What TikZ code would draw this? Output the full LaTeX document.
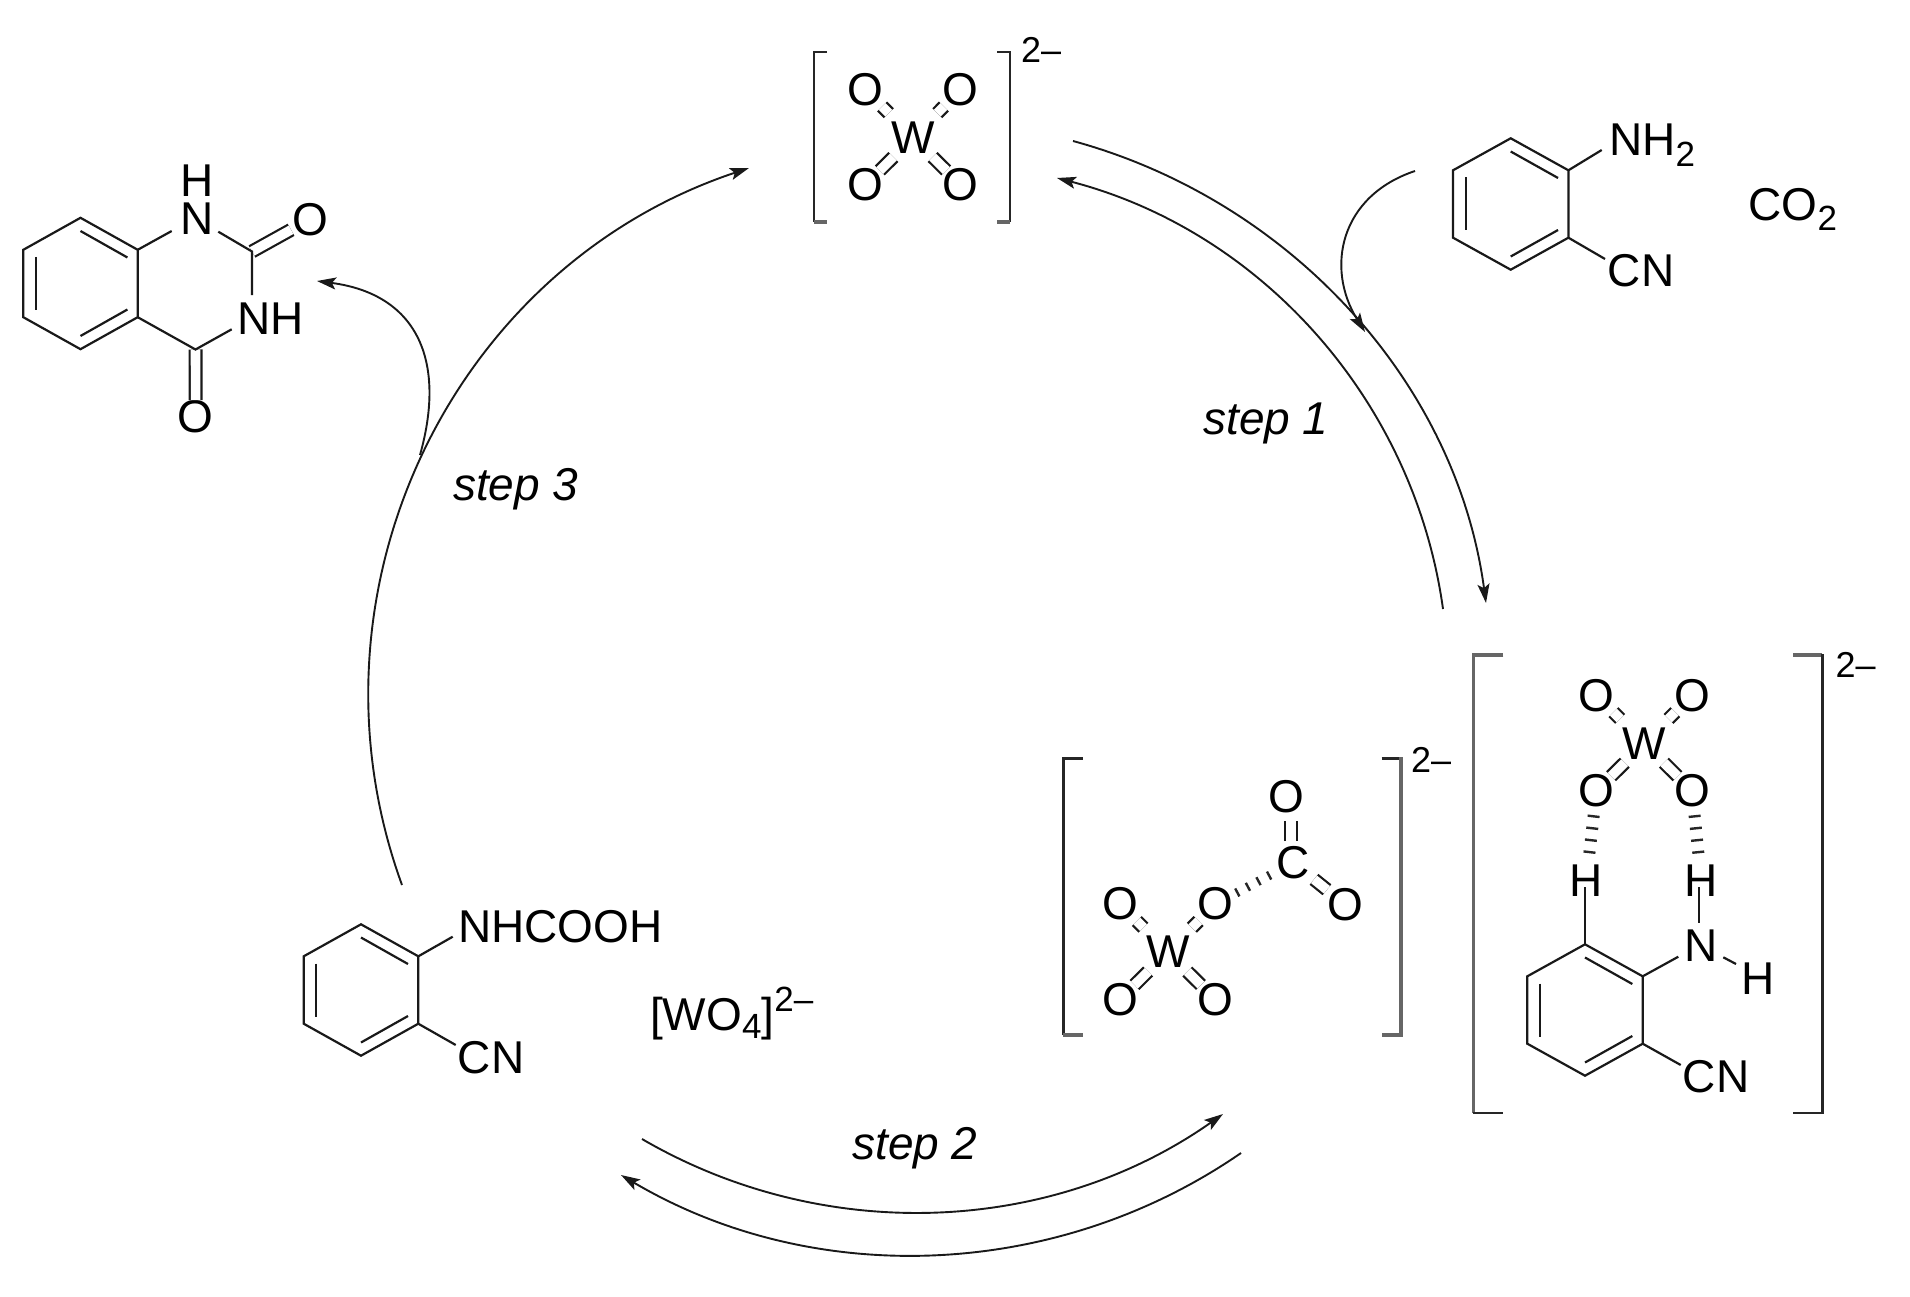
\documentclass[tikz,border=0pt]{standalone}
\usepackage{fontspec}
\setmainfont{Liberation Sans}
\usetikzlibrary{arrows.meta}
\tikzset{
  bond/.style={line width=2.2pt,line cap=butt,line join=miter,black!90},
  dbl/.style={line width=2.2pt,double,double distance=9.6pt,black!90},
  wup/.style={dbl,shorten <=11.7pt,shorten >=0.7pt},
  wdn/.style={dbl,shorten <=4.9pt,shorten >=-2.8pt},
  hashv/.style={line width=12pt,dash pattern=on 2.4pt off 9.6pt,shorten <=8pt,shorten >=7pt,black!85},
  hashd/.style={line width=9pt,dash pattern=on 2.4pt off 9.6pt,shorten <=3pt,shorten >=3pt,black!85},
  brk/.style={line width=2.4pt,line cap=butt,line join=miter,black!85},
  brkg/.style={line width=3.6pt,line cap=butt,line join=miter,black!60},
  atom/.style={font=\fontsize{46}{50}\selectfont,inner sep=0pt,anchor=center},
  atomb/.style={font=\fontsize{46}{50}\selectfont,inner sep=0pt,anchor=base},
  lab/.style={font=\fontsize{46}{50}\selectfont,inner sep=0pt,anchor=base west},
  steplab/.style={font=\fontsize{46}{50}\selectfont\itshape,inner sep=0pt,anchor=base west},
  chg/.style={font=\fontsize{36}{40}\selectfont,inner sep=0pt,anchor=base west},
  curve/.style={line width=1.9pt,black!90},
  arr/.style={curve,-{Stealth[length=19pt,width=12pt,inset=4pt]}},
}
\newcommand{\chemsub}[2]{\raisebox{-#1pt}{\fontsize{35}{40}\selectfont #2}}
\newcommand{\benzring}[4]{%
  \coordinate (#1t) at (#2,#3-65.7);
  \coordinate (#1ur) at (#2+#4,#3-33.7);
  \coordinate (#1lr) at (#2+#4,#3+33.7);
  \coordinate (#1b) at (#2,#3+65.7);
  \coordinate (#1ll) at (#2-#4,#3+33.7);
  \coordinate (#1ul) at (#2-#4,#3-33.7);
  \draw[bond] (#1t)--(#1ur)--(#1lr)--(#1b)--(#1ll)--(#1ul)--cycle;
  \draw[bond] (#2-0.78*#4,#3-26.5)--(#2-0.78*#4,#3+26.5);
  \draw[bond] (#2,#3-52.5)--(#2+0.82*#4,#3-26);
  \draw[bond] (#2,#3+52.5)--(#2+0.82*#4,#3+26);
}
\newcommand{\wofour}[3]{%
  \node[atom] (#1w) at (#2,#3) {W};
  \node[atom] (#1a) at (#2-47.8,#3-48) {O};
  \node[atom] (#1b) at (#2+47.8,#3-48) {O};
  \node[atom] (#1c) at (#2-47.8,#3+47.5) {O};
  \node[atom] (#1d) at (#2+47.8,#3+47.5) {O};
  \draw[wup] (#1w)--(#1a);
  \draw[wup] (#1w)--(#1b);
  \draw[wdn] (#1w)--(#1c);
  \draw[wdn] (#1w)--(#1d);
}
\begin{document}
\begin{tikzpicture}[x=1pt,y=-1pt]
\useasboundingbox (0,0) rectangle (1910,1297);

% top tungstate
\wofour{p}{913}{137.5}
\draw[brk] (827,52)--(814,52)--(814,222);
\draw[brkg] (814,222)--(827,222);
\draw[brk] (997,52)--(1010,52)--(1010,222);
\draw[brkg] (1010,222)--(997,222);
\node[chg] (pq) at (1021,62.7) {2–};

% anthranilonitrile
\benzring{r}{1510.7}{204}{57.7}
\node[lab] (rn) at (1609,155.7) {NH\chemsub{11}{2}};
\node[lab] (rc) at (1607.7,286.7) {CN};
\coordinate (rne) at (1601.7,150);
\coordinate (rce) at (1605,259);
\draw[bond] (rur)--(rne);
\draw[bond] (rlr)--(rce);
\node[lab] (co) at (1748.4,220.7) {CO\chemsub{10}{2}};

% quinazolinedione
\benzring{q}{80.5}{283.5}{57.2}
\node[atomb] (qh) at (196.7,196.7) {H};
\node[atomb] (qn) at (196.7,235) {N};
\node[lab] (qnh) at (237,334) {NH};
\node[atom] (qo1) at (310,219.3) {O};
\node[atom] (qo2) at (195.7,416.7) {O};
\coordinate (qc2) at (252,251.5);
\coordinate (qc4) at (195.5,349.5);
\coordinate (qa) at (171.7,231);
\coordinate (qb) at (218.3,231.7);
\coordinate (qc) at (252,295);
\coordinate (qd) at (231.7,329.3);
\draw[dbl,shorten >=1pt] (qc2)--(qo1);
\draw[dbl,shorten >=0pt] (qc4)--(qo2);
\draw[bond] (qur)--(qa);
\draw[bond] (qb)--(qc2)--(qc);
\draw[bond] (qlr)--(qc4)--(qd);

% carbamic acid
\benzring{s}{361}{990}{57.3}
\node[lab] (sn) at (458,942.3) {NHCOOH};
\node[lab] (sc) at (457.7,1073.3) {CN};
\coordinate (sne) at (452.7,936.7);
\coordinate (sce) at (455.7,1045);
\draw[bond] (sur)--(sne);
\draw[bond] (slr)--(sce);
\node[lab] (sw) at (650,1030.7) {[WO\chemsub{7.5}{4}]\raisebox{19pt}{\fontsize{35}{40}\selectfont 2–}};

% carbonate adduct
\wofour{u}{1167.7}{952}
\node[atom] (uc) at (1293.3,862.7) {C};
\node[atom] (uot) at (1286.7,796.7) {O};
\node[atom] (uor) at (1345,904.3) {O};
\coordinate (uca) at (1291,841);
\coordinate (ucb) at (1291,820.5);
\draw[dbl] (uca)--(ucb);
\draw[dbl,shorten <=5pt,shorten >=0pt] (uc)--(uor);
\draw[hashd] (ub)--(uc);
\draw[brk] (1082.7,758.3)--(1063.3,758.3)--(1063.3,1035);
\draw[brkg] (1063.3,1035)--(1082.7,1035);
\draw[brk] (1381.7,758.3)--(1401,758.3);
\draw[brkg] (1401,757)--(1401,1036.8);
\draw[brkg] (1401,1035)--(1381.7,1035);
\node[chg] (uq) at (1411,772.3) {2–};

% hydrogen bonded complex
\wofour{v}{1644.3}{743.2}
\benzring{t}{1585}{1010}{57.7}
\node[atomb] (th) at (1586.3,896) {H};
\node[atomb] (tg) at (1701,896) {H};
\node[atomb] (tn) at (1701,961.7) {N};
\node[atomb] (tk) at (1757.7,994) {H};
\node[lab] (tc) at (1682.7,1092.7) {CN};
\coordinate (tha) at (1585,887.3);
\coordinate (tga) at (1699.3,887.3);
\coordinate (tgb) at (1699.3,923.3);
\coordinate (tna) at (1678.3,956.7);
\coordinate (tnb) at (1723.3,957.3);
\coordinate (tnc) at (1736,964);
\coordinate (tca) at (1680.7,1065);
\draw[hashv] (vc)--(th);
\draw[hashv] (vd)--(tg);
\draw[bond] (tt)--(tha);
\draw[bond] (tga)--(tgb);
\draw[bond] (tur)--(tna);
\draw[bond] (tnb)--(tnc);
\draw[bond] (tlr)--(tca);
\draw[brkg] (1503.3,655)--(1473.3,655)--(1473.3,1112.7);
\draw[brk] (1473.3,1112.7)--(1503.3,1112.7);
\draw[brkg] (1793.3,655)--(1822.3,655);
\draw[brk] (1822.3,654)--(1822.3,1112.7)--(1793.3,1112.7);
\node[chg] (vq) at (1835.5,677.3) {2–};

% cycle arrows
\coordinate (a1) at (1073,141);  \coordinate (a2) at (1486,603);
\coordinate (b1) at (1443,609);  \coordinate (b2) at (1057,178);
\coordinate (c1) at (402,885);   \coordinate (c2) at (749,168);
\coordinate (d1) at (642,1139);  \coordinate (d2) at (1223,1114);
\coordinate (e1) at (1241,1153); \coordinate (e2) at (621,1175);
\coordinate (f1) at (420,455);   \coordinate (f2) at (317,281);
\coordinate (g1) at (1415,171);  \coordinate (g2) at (1365,332);
\draw[arr] (a1) .. controls (1289,200) and (1456,381) .. (a2);
\draw[arr] (b1) .. controls (1414,400) and (1261,231) .. (b2);
\draw[arr] (c1) .. controls (295,591) and (452,267) .. (c2);
\draw[arr] (d1) .. controls (824,1245) and (1051,1235) .. (d2);
\draw[arr] (e1) .. controls (1057,1280) and (814,1289) .. (e2);
\draw[arr] (f1) .. controls (447,359) and (416,294) .. (f2);
\draw[arr] (g1) .. controls (1340,196) and (1325,268) .. (g2);

\node[steplab] (s1) at (1203,434) {step 1};
\node[steplab] (s3) at (453,500) {step 3};
\node[steplab] (s2) at (852,1159) {step 2};
\end{tikzpicture}
\end{document}
